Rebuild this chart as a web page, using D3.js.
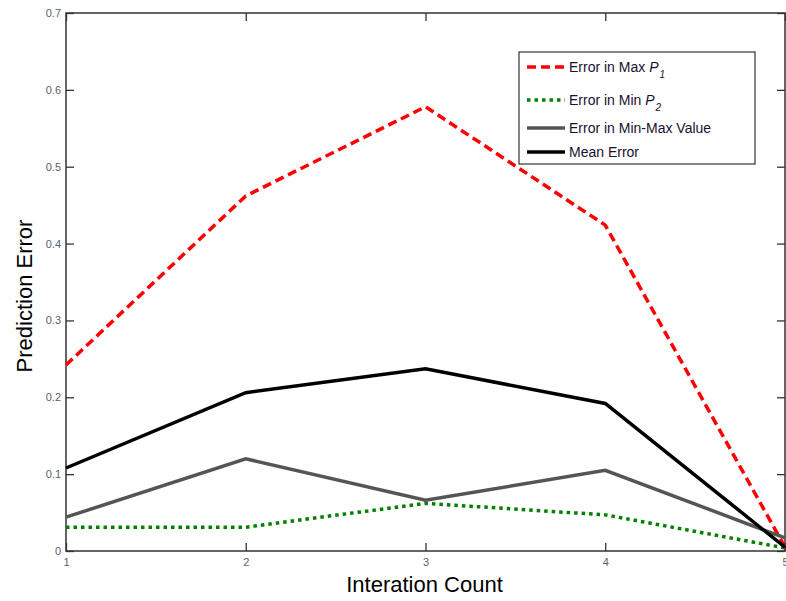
<!DOCTYPE html>
<html>
<head>
<meta charset="utf-8">
<script src="https://cdn.jsdelivr.net/npm/d3@7"></script>
<style>
  body { margin: 0; background: #fff; }
  svg { display: block; font-family: Arial, "Liberation Sans", sans-serif; }
</style>
</head>
<body>
<div id="chart"></div>
<script>
// data
const iterations = [1, 2, 3, 4, 5];
const errMaxP1 = [0.242, 0.462, 0.578, 0.424, 0.005];
const errMinP2 = [0.031, 0.031, 0.062, 0.047, 0.004];
const errMinMax = [0.044, 0.120, 0.066, 0.105, 0.017];
const meanErr = [0.108, 0.206, 0.237, 0.192, 0.005];
const yTicks = [0, 0.1, 0.2, 0.3, 0.4, 0.5, 0.6, 0.7];

const series = [
  { name: "Error in Max ", sub: "P", idx: "1", values: errMaxP1, color: "#ff0000", width: 3.5, dash: "9,5" },
  { name: "Error in Min ", sub: "P", idx: "2", values: errMinP2, color: "#008000", width: 3.5, dash: "3.5,4" },
  { name: "Error in Min-Max Value", values: errMinMax, color: "#555555", width: 3.5, dash: null },
  { name: "Mean Error", values: meanErr, color: "#000000", width: 3.5, dash: null }
];

const W = 786, H = 601;
const margin = { top: 13, right: 1, bottom: 50, left: 66 };
const width = W - margin.left - margin.right;
const height = H - margin.top - margin.bottom;

const svg = d3.select("#chart").append("svg")
  .attr("width", W).attr("height", H);
const g = svg.append("g")
  .attr("transform", `translate(${margin.left},${margin.top})`);

const x = d3.scaleLinear().domain([1, 5]).range([0, width]);
const y = d3.scaleLinear().domain([0, 0.7]).range([height, 0]);

// frame
g.append("rect")
  .attr("width", width).attr("height", height)
  .attr("fill", "none").attr("stroke", "#333").attr("stroke-width", 1.5);

// axes with inward ticks
const yAxis = g.append("g")
  .call(d3.axisLeft(y).tickValues(yTicks).tickSize(-8).tickPadding(5).tickFormat(d3.format("")));
const yAxisR = g.append("g").attr("transform", `translate(${width},0)`)
  .call(d3.axisRight(y).tickValues(yTicks).tickSize(-8).tickFormat(""));
const xAxis = g.append("g").attr("transform", `translate(0,${height})`)
  .call(d3.axisBottom(x).tickValues(iterations).tickSize(-8).tickPadding(5).tickFormat(d3.format("d")));
const xAxisT = g.append("g")
  .call(d3.axisTop(x).tickValues(iterations).tickSize(-8).tickFormat(""));

[yAxis, yAxisR, xAxis, xAxisT].forEach(a => {
  a.select(".domain").remove();
  a.selectAll(".tick line").attr("stroke", "#333").attr("stroke-width", 1.3);
  a.selectAll("text").attr("fill", "#5a6070").style("font-size", "11px");
});
xAxis.selectAll("text").attr("dy", "0.95em");

// lines
const line = d3.line()
  .x((d, i) => x(iterations[i]))
  .y(d => y(d));

series.forEach(s => {
  g.append("path")
    .datum(s.values)
    .attr("d", line)
    .attr("fill", "none")
    .attr("stroke", s.color)
    .attr("stroke-width", s.width)
    .attr("stroke-dasharray", s.dash)
    .attr("stroke-linejoin", "miter");
});

// axis titles
svg.append("text")
  .attr("transform", `translate(32,${margin.top + height / 2 + 14}) rotate(-90)`)
  .attr("text-anchor", "middle")
  .style("font-size", "22px")
  .text("Prediction Error");

svg.append("text")
  .attr("x", margin.left + width / 2 - 1)
  .attr("y", 592)
  .attr("text-anchor", "middle")
  .style("font-size", "22px")
  .text("Interation Count");

// legend
const legend = svg.append("g").attr("transform", "translate(519,52)");
legend.append("rect")
  .attr("width", 236).attr("height", 112)
  .attr("fill", "#fff").attr("stroke", "#333").attr("stroke-width", 1.2);

const rowY = [15, 48, 76, 100];
series.forEach((s, i) => {
  const row = legend.append("g").attr("transform", `translate(0,${rowY[i]})`);
  row.append("line")
    .attr("x1", 8).attr("x2", 46)
    .attr("stroke", s.color)
    .attr("stroke-width", s.width)
    .attr("stroke-dasharray", s.dash);
  const t = row.append("text")
    .attr("x", 50).attr("dy", "0.35em")
    .attr("fill", "#1a1030")
    .style("font-size", "14px")
    .text(s.name);
  if (s.sub) {
    t.append("tspan").style("font-style", "italic").text(s.sub);
    t.append("tspan").style("font-style", "italic").style("font-size", "10px")
      .attr("dy", "6").attr("dx", "1").text(s.idx);
  }
});
</script>
</body>
</html>
